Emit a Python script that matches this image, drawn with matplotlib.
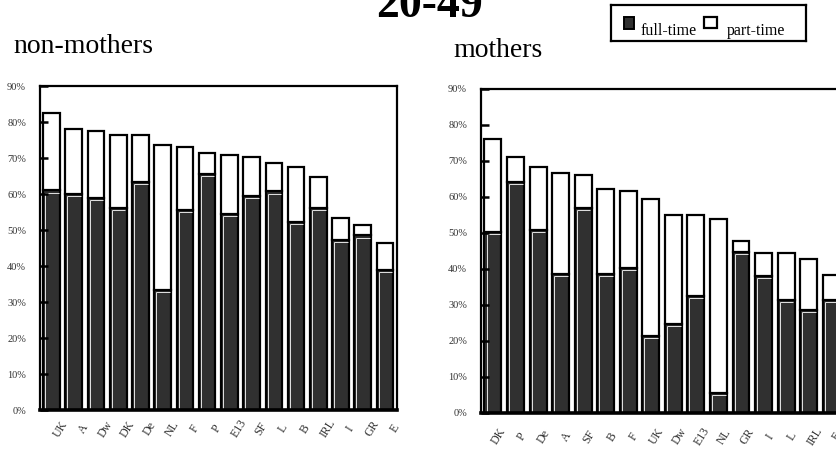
import numpy as np
import matplotlib
matplotlib.use("Agg")
import matplotlib.pyplot as plt
from matplotlib.patches import Rectangle
from matplotlib.transforms import ScaledTranslation

plt.rcParams['font.family'] = ['Liberation Serif', 'DejaVu Serif']

# non-mothers (% of women aged 20-49)
countries_nm = ["UK", "A", "Dw", "DK", "De", "NL", "F", "P", "E13", "SF", "L", "B", "IRL", "I", "GR", "E"]
fulltime_nm = [61.0, 60.0, 59.0, 56.2, 63.4, 33.4, 55.6, 65.6, 54.4, 59.5, 60.7, 52.3, 56.2, 47.2, 48.5, 38.9]
parttime_nm = [21.6, 18.0, 18.5, 20.3, 13.1, 40.3, 17.5, 5.9, 16.4, 10.8, 8.0, 15.3, 8.6, 6.0, 2.9, 7.5]

# mothers
countries_m = ["DK", "P", "De", "A", "SF", "B", "F", "UK", "Dw", "E13", "NL", "GR", "I", "L", "IRL", "E"]
fulltime_m = [50.3, 64.3, 50.8, 38.7, 57.0, 38.7, 40.4, 21.5, 24.8, 32.5, 5.5, 44.7, 38.1, 31.4, 28.7, 31.4]
parttime_m = [25.8, 6.8, 17.5, 28.0, 9.1, 23.5, 21.3, 38.0, 30.2, 22.5, 48.4, 3.1, 6.3, 13.0, 14.1, 7.0]

yticks = np.arange(0, 100, 10)
DARK = '#303030'


def draw_panel(ax, labels, ft, pt, xlim, label_dx, label_pad):
    x = np.arange(len(labels))
    ft = np.array(ft)
    pt = np.array(pt)
    w = 0.75
    ax.bar(x, ft, width=w, color=DARK, edgecolor='black', linewidth=1.6, zorder=2)
    ax.bar(x, pt, bottom=ft, width=w, color='white', edgecolor='black', linewidth=1.6, zorder=2)
    # white highlight inside the dark bars
    ins = 0.09
    ax.vlines(x - w / 2 + ins, 0, ft - 0.6, color='white', linewidth=0.6, zorder=2.2)
    ax.hlines(ft - 0.6, x - w / 2 + ins, x + w / 2 - 0.05, color='white', linewidth=0.6, zorder=2.2)
    ax.set_axisbelow(False)

    ax.set_xlim(*xlim)
    ax.set_ylim(0, 90)
    ax.set_yticks(yticks)
    ax.set_yticklabels([f"{t}%" for t in yticks], fontsize=7.5, color='#333333')
    ax.tick_params(axis='y', direction='in', length=6, width=1.8, pad=10)
    ax.set_xticks(x)
    ax.set_xticklabels(labels, rotation=58, fontsize=8.5, ha='center', va='center', color='#333333')
    ax.tick_params(axis='x', length=0, pad=label_pad)
    fig = ax.figure
    for t in ax.get_xticklabels():
        t.set_transform(t.get_transform() + ScaledTranslation(label_dx / 100, 0, fig.dpi_scale_trans))
    for s in ax.spines.values():
        s.set_linewidth(1.6)
        s.set_zorder(4)
    ax.spines['bottom'].set_linewidth(2.6)


fig = plt.figure(figsize=(8.36, 4.49), dpi=100)

ax1 = fig.add_axes([40 / 836, 39 / 449, 357 / 836, 324 / 449])
draw_panel(ax1, countries_nm, fulltime_nm, parttime_nm, (-0.52, 15.54), 9.5, 13.5)

ax2 = fig.add_axes([481 / 836, 36 / 449, 357 / 836, 324 / 449])
draw_panel(ax2, countries_m, fulltime_m, parttime_m, (-0.53, 15.3), 6, 17)

fig.text(429 / 836, 1 - 17 / 449, "20-49", ha='center', va='baseline',
         fontsize=33, fontweight='bold')
fig.text(13 / 836, 1 - 53 / 449, "non-mothers", ha='left', va='baseline', fontsize=20)
fig.text(453 / 836, 1 - 57 / 449, "mothers", ha='left', va='baseline', fontsize=20)

# legend box
lg = fig.add_axes([610.7 / 836, 1 - 41.3 / 449, 195 / 836, 36.6 / 449])
lg.set_xlim(0, 195)
lg.set_ylim(36.6, 0)
lg.set_xticks([])
lg.set_yticks([])
for s in lg.spines.values():
    s.set_linewidth(1.6)
lg.add_patch(Rectangle((13.3, 12.3), 10, 12, facecolor=DARK, edgecolor='black', linewidth=1.4))
lg.add_patch(Rectangle((93.3, 12.6), 13, 10.7, facecolor='white', edgecolor='black', linewidth=1.6))
lg.text(30.3, 30.3, "full-time", fontsize=11.5, va='baseline', ha='left')
lg.text(116.3, 30.3, "part-time", fontsize=11.5, va='baseline', ha='left')

fig.savefig("out.png", dpi=100)
plt.close(fig)
